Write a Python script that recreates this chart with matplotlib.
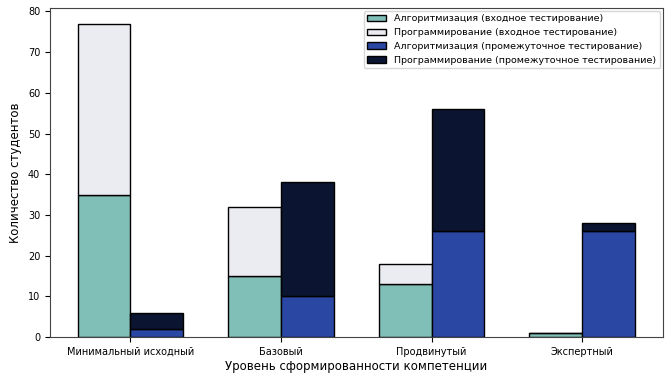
import numpy as np
import matplotlib
matplotlib.use("Agg")
import matplotlib.pyplot as plt

levels = ["Минимальный исходный", "Базовый", "Продвинутый", "Экспертный"]

# входное тестирование
algo_entry = [35, 15, 13, 1]
prog_entry = [42, 17, 5, 0]
# промежуточное тестирование
algo_mid = [2, 10, 26, 26]
prog_mid = [4, 28, 30, 2]

plt.rcParams['font.family'] = ['DejaVu Sans']
plt.rcParams['font.size'] = 7

fig = plt.figure(figsize=(6.66, 3.75), dpi=100)
ax = fig.add_axes([0.075, 0.101, 0.92, 0.878])

x = np.arange(len(levels))
width = 0.35

ax.bar(x - width / 2, algo_entry, width, color='#7fbfb8', edgecolor='black',
       label='Алгоритмизация (входное тестирование)')
ax.bar(x - width / 2, prog_entry, width, bottom=algo_entry, color='#ebecf2', edgecolor='black',
       label='Программирование (входное тестирование)')
ax.bar(x + width / 2, algo_mid, width, color='#2a47a3', edgecolor='black',
       label='Алгоритмизация (промежуточное тестирование)')
ax.bar(x + width / 2, prog_mid, width, bottom=algo_mid, color='#0b1430', edgecolor='black',
       label='Программирование (промежуточное тестирование)')

ax.set_xticks(x)
ax.set_xticklabels(levels)
ax.set_ylim(0, 80.85)
ax.set_xlabel("Уровень сформированности компетенции", fontsize=8.5, labelpad=2)
ax.set_ylabel("Количество студентов", fontsize=8.5)
for sp in ax.spines.values():
    sp.set_color('#444444')
ax.legend(loc='upper right', fontsize=6.8, borderaxespad=0.3)

fig.savefig("out.png", dpi=100)
